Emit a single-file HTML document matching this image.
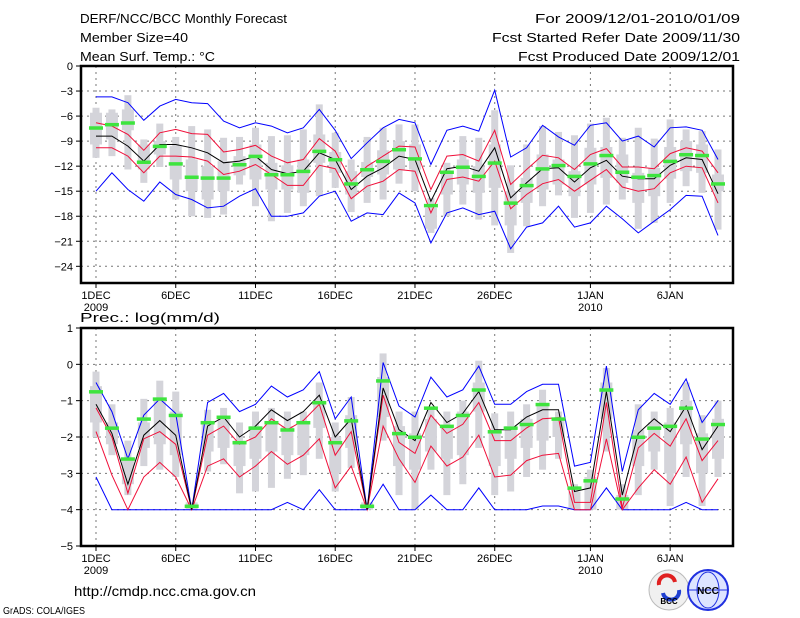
<!DOCTYPE html>
<html><head><meta charset="utf-8"><style>
html,body{margin:0;padding:0;background:#fff;width:800px;height:618px;overflow:hidden}
svg{display:block}
text{font-family:"Liberation Sans",sans-serif;fill:#000}
</style></head><body>
<svg id="c" width="800" height="618" viewBox="0 0 800 618">
<text x="80" y="23" font-size="13" textLength="207" lengthAdjust="spacingAndGlyphs">DERF/NCC/BCC Monthly Forecast</text>
<text x="80" y="42" font-size="13" textLength="108" lengthAdjust="spacingAndGlyphs">Member Size=40</text>
<text x="80" y="61" font-size="13" textLength="135" lengthAdjust="spacingAndGlyphs">Mean Surf. Temp.: °C</text>
<text x="740" y="23" font-size="13" text-anchor="end" textLength="205" lengthAdjust="spacingAndGlyphs">For 2009/12/01-2010/01/09</text>
<text x="740" y="42" font-size="13" text-anchor="end" textLength="248" lengthAdjust="spacingAndGlyphs">Fcst Started Refer Date 2009/11/30</text>
<text x="740" y="61" font-size="13" text-anchor="end" textLength="222" lengthAdjust="spacingAndGlyphs">Fcst Produced Date 2009/12/01</text>
<text x="80" y="322" font-size="13" textLength="140" lengthAdjust="spacingAndGlyphs">Prec.: log(mm/d)</text>
<text x="74" y="596" font-size="14" textLength="182" lengthAdjust="spacingAndGlyphs">http://cmdp.ncc.cma.gov.cn</text>
<text x="3" y="614" font-size="10" textLength="82" lengthAdjust="spacingAndGlyphs">GrADS: COLA/IGES</text>
<g>
<circle cx="669" cy="590" r="20" fill="#f0f0f0" stroke="#bbb"/>
<path d="M659 585 a8 8 0 0 1 16 -3" stroke="#e02020" stroke-width="4" fill="none"/>
<path d="M679 590 a8 8 0 0 1 -16 3" stroke="#2040d0" stroke-width="4" fill="none"/>
<text x="669" y="604" font-size="8" text-anchor="middle" font-weight="bold">BCC</text>
</g>
<g>
<circle cx="708" cy="590" r="20" fill="#dde4ff" stroke="#2030e0" stroke-width="2"/>
<ellipse cx="708" cy="590" rx="11" ry="18" fill="none" stroke="#2030e0"/>
<line x1="689" y1="590" x2="727" y2="590" stroke="#2030e0"/>
<text x="708" y="594" font-size="10" text-anchor="middle" font-weight="bold" fill="#1020c0">NCC</text>
</g>
</svg>
<script>
// ---- temperature panel data ----
const days = ["1DEC","6DEC","11DEC","16DEC","21DEC","26DEC","1JAN","6JAN"];
const dayIdx = [0,5,10,15,20,25,31,36];
const tYTicks = [0,-3,-6,-9,-12,-15,-18,-21,-24];
const tMean = [-8.4,-8.4,-9.6,-11.4,-9.4,-9.4,-9.8,-10.4,-11.6,-11.4,-10.8,-12.4,-12.9,-12.6,-10.4,-11.2,-14.8,-13.2,-12.2,-10.8,-11.2,-16.2,-12.3,-12,-12.6,-9.8,-15.8,-14,-12.3,-12.2,-13.9,-12.2,-11.3,-13.2,-13.5,-13.5,-11.9,-11,-11.2,-15.3];
const tRedHi = [-6.8,-7.2,-8.2,-10.1,-8,-7.6,-8.1,-8.2,-10.3,-10,-9.5,-10.8,-11.6,-11.2,-8.7,-10.2,-13.8,-12,-10.8,-9.6,-9.7,-14.8,-10.8,-10.6,-11.4,-7.7,-14.2,-12.4,-10.7,-11,-12.4,-10.6,-9.9,-12.1,-12.1,-12.3,-10.5,-9.8,-10.2,-12.8];
const tRedLo = [-9.8,-9.8,-10.8,-12.8,-10.8,-10.8,-10.9,-11.4,-13,-12.6,-11.8,-13,-14.3,-14.3,-11.9,-12.3,-15.9,-14.4,-13.8,-12.4,-12.6,-17.6,-13.6,-13.3,-13.8,-11.4,-17.1,-15.4,-14.1,-13.6,-15,-13.7,-12.4,-14.5,-15,-14.7,-12.8,-12,-12.2,-16.4];
const tMax = [-3.7,-3.7,-4.4,-6.5,-4.8,-4,-4.4,-4.5,-6.6,-7.4,-6.8,-7.2,-8,-7.4,-5.2,-7.7,-11.1,-9.2,-7.4,-6.4,-6.8,-11.8,-7.7,-7.2,-7.8,-2.9,-10.9,-9.8,-7.1,-8.5,-9.5,-7.1,-6.8,-9,-8.4,-9.7,-7.4,-7.3,-7.7,-11.2];
const tMin = [-15,-12.8,-14.8,-16.2,-13.9,-15.4,-16,-17,-16.8,-15.6,-14.7,-18,-18,-17.6,-15.6,-15,-18.6,-17.6,-17.8,-15.2,-16.4,-21.2,-17.6,-17,-17.8,-17.4,-21.9,-19.3,-18.8,-16.8,-19.3,-18.8,-16.8,-18.3,-20,-18.6,-17.2,-15.5,-15.6,-20.3];
const tObs = [-7.4,-7,-6.8,-11.5,-9.6,-11.7,-13.3,-13.4,-13.4,-11.8,-10.8,-13,-13,-12.6,-10.2,-11.2,-14.1,-12.4,-11.4,-10,-11.1,-16.7,-12.7,-12.1,-13.2,-11.6,-16.4,-14.3,-12.3,-11.9,-13.2,-11.7,-10.7,-12.7,-13.3,-13.1,-11.4,-10.6,-10.7,-14.1];
const tBoxOutHi = [-5,-5.2,-3.5,-8.8,-6.9,-8.5,-7.2,-7.6,-8.6,-8.5,-7.4,-8.4,-8.3,-7.6,-4.6,-8,-11.2,-8.5,-7.4,-7,-7,-15.8,-11.6,-8.4,-8.6,-5.3,-11.9,-9.4,-7.2,-7.9,-8.3,-6.9,-6.2,-8.6,-7.4,-8.7,-6.4,-7.6,-7.8,-10];
const tBoxOutLo = [-11,-10.8,-12.4,-14,-12.1,-16,-18,-18.2,-17.8,-14.2,-16.8,-18.6,-17.6,-16.8,-15.6,-14.6,-17.5,-16.4,-16,-14.1,-15,-20,-18,-16.6,-18.4,-19.1,-22.4,-19.2,-16.8,-15.5,-18.2,-17.6,-16.6,-16,-19.5,-18.8,-16.4,-14.4,-15.2,-19.6];
const tBoxInHi = [-5.6,-5.6,-5.2,-9.4,-9,-9.6,-11.2,-12,-11.4,-10.8,-9.4,-11.6,-11.9,-11.2,-8.2,-10.3,-12.6,-11.5,-10.1,-9,-9.4,-17,-12.6,-11.2,-12,-9.4,-15,-13.4,-10.6,-11.2,-12.6,-9.8,-9.7,-10.6,-12.8,-12.2,-9.7,-9,-9.4,-13];
const tBoxInLo = [-9.4,-8.8,-7.7,-12.4,-10.6,-13.6,-15,-16,-15,-13.1,-13.6,-14.8,-14.8,-15.2,-11.6,-12.8,-15.4,-13.3,-13,-12.4,-12.4,-19.5,-15.4,-14.2,-15.2,-14.6,-19.1,-16.4,-14.8,-14.2,-15.6,-14.2,-13.4,-14,-16.4,-15.6,-13.5,-12.6,-12.8,-15];
// ---- precipitation panel data ----
const pYTicks = [1,0,-1,-2,-3,-4,-5];
const pMean = [-1.1,-1.9,-3.3,-1.95,-1.55,-1.95,-4,-1.7,-1.45,-2,-1.7,-1.25,-1.55,-1.3,-0.85,-2,-1.5,-4,-0.65,-1.8,-2.1,-1.05,-1.6,-1.35,-0.75,-1.8,-1.8,-1.45,-1.25,-1.25,-3.5,-3.4,-0.75,-3.6,-1.9,-1.5,-1.85,-1.15,-2.35,-1.7];
const pRedHi = [-1.2,-2,-3.55,-2.05,-1.85,-2.2,-4,-1.95,-1.7,-2.2,-2,-1.5,-1.8,-1.55,-1.1,-2.5,-1.85,-4,-0.85,-2.15,-2.45,-1.4,-1.9,-1.65,-1.05,-2.1,-2.1,-1.75,-1.5,-1.47,-3.8,-3.8,-1.05,-3.95,-2.3,-1.9,-2.25,-1.5,-2.65,-2.1];
const pRedLo = [-1.85,-3.05,-4,-3.1,-2.7,-3.1,-4,-2.8,-2.6,-3.1,-2.8,-2.4,-2.75,-2.5,-2.05,-3.4,-2.8,-4,-1.7,-2.6,-3.25,-2.25,-2.8,-2.55,-1.95,-3.1,-3.05,-2.65,-2.5,-2.45,-4,-4,-2.05,-4,-3.4,-2.9,-3.3,-2.55,-3.8,-3.15];
const pMax = [-0.5,-1.3,-2.6,-1.4,-0.95,-1.35,-4,-1.05,-0.8,-1.3,-1.1,-0.6,-0.9,-0.7,-0.2,-1.5,-0.9,-4,0.05,-1.15,-1.45,-0.35,-0.9,-0.7,-0.05,-1.1,-1.1,-0.75,-0.55,-0.55,-2.8,-2.7,-0.05,-2.95,-1.25,-0.8,-1.1,-0.4,-1.6,-1];
const pMin = [-3.1,-4,-4,-4,-4,-4,-4,-4,-4,-4,-4,-4,-3.8,-4,-3.45,-4,-4,-4,-3.3,-4,-4,-3.6,-4,-4,-3.4,-4,-4,-4,-3.9,-3.9,-4,-4,-3.4,-4,-4,-4,-4,-3.8,-4,-4];
const pObs = [-0.75,-1.75,-2.6,-1.5,-0.95,-1.4,-3.9,-1.6,-1.45,-2.15,-1.75,-1.6,-1.8,-1.6,-1.05,-2.15,-1.55,-3.9,-0.45,-1.9,-2,-1.2,-1.7,-1.4,-0.7,-1.85,-1.75,-1.65,-1.1,-1.5,-3.4,-3.2,-0.7,-3.7,-2,-1.75,-1.7,-1.2,-2.05,-1.65];
const pBoxOutHi = [-0.2,-1.1,-2.1,-0.95,-0.45,-0.75,-3.8,-1.25,-1.2,-1.6,-1.3,-1.2,-1.3,-1.3,-0.5,-1.6,-0.9,-3.8,0.3,-1.3,-1.3,-1.2,-1.3,-1,0.1,-1.35,-1.3,-1.1,-0.7,-1.3,-3.3,-2.9,-0.1,-3.3,-1.1,-1.3,-1.2,-0.5,-1.4,-1];
const pBoxOutLo = [-2,-2.5,-3.6,-2.8,-2.9,-3.1,-4,-2.95,-2.75,-3.55,-3.5,-3.4,-3.15,-3.05,-2.6,-3.5,-2.85,-4,-2.1,-3.6,-4,-2.9,-3.6,-3.3,-2.3,-3.6,-3.5,-3.1,-2.9,-2.6,-4,-4,-2.4,-4,-3.6,-2.9,-3.9,-3.1,-3.9,-3.1];
const pBoxInHi = [-0.6,-1.6,-2.6,-1.6,-1,-1.3,-3.8,-1.6,-1.5,-2.1,-1.7,-1.6,-1.7,-1.6,-1,-2,-1.4,-3.8,-0.35,-1.7,-1.9,-1.5,-1.7,-1.3,-0.5,-1.8,-1.7,-1.5,-1.1,-1.5,-3.5,-3.1,-0.5,-3.6,-1.8,-1.6,-1.6,-1,-1.9,-1.5];
const pBoxInLo = [-1.6,-2.2,-3.3,-2.3,-2.2,-2.5,-4,-2.4,-2.3,-2.8,-2.6,-2.4,-2.5,-2.5,-1.75,-3,-2.3,-4,-1.45,-2.8,-2.9,-2.4,-2.6,-2.5,-1.3,-2.8,-2.6,-2.3,-2.1,-2,-4,-4,-1.5,-4,-2.8,-2.4,-3,-2.2,-3,-2.6];

const NS="http://www.w3.org/2000/svg";
const svg=document.getElementById('c');
const X0=81,X1=733,D0=-0.94,D1=39.94;
function xs(d){return X0+(d-D0)/(D1-D0)*(X1-X0);}
function mk(tag,at,parent){const e=document.createElementNS(NS,tag);for(const k in at)e.setAttribute(k,at[k]);(parent||svg).appendChild(e);return e;}

function panel(cfg){
  const ys=v=>cfg.top+(cfg.vmax-v)/(cfg.vmax-cfg.vmin)*(cfg.bot-cfg.top);
  const g=mk('g',{});
  
  
  // gridlines
  cfg.yt.forEach(v=>{const y=ys(v);
    if(y>cfg.top+1&&y<cfg.bot-1){const l=mk('line',{x1:X0,x2:X1,y1:y,y2:y,stroke:'#777','stroke-dasharray':'2,4','stroke-width':1},g);
      
      }
    const tk=mk('line',{x1:X0-5,x2:X0,y1:y,y2:y,stroke:'#000'},g);
    
    
    const t=mk('text',{x:X0-8,y:y+4,'font-size':11,'text-anchor':'end'},g);
    t.textContent=(v<0?'\u2212'+(-v):String(v));
    
    
  });
  dayIdx.forEach((d,i)=>{const x=xs(d);
    const l=mk('line',{x1:x,x2:x,y1:cfg.top,y2:cfg.bot,stroke:'#777','stroke-dasharray':'2,4'},g);
    
    
    const tk=mk('line',{x1:x,x2:x,y1:cfg.bot,y2:cfg.bot+5,stroke:'#000'},g);
    
    
    const t=mk('text',{x:x,y:cfg.bot+16,'font-size':11,'text-anchor':'middle'},g);
    t.textContent=days[i];
    
    
    if(i==0||i==6){const t2=mk('text',{x:x,y:cfg.bot+28,'font-size':11,'text-anchor':'middle'},g);
      t2.textContent=(i==0?'2009':'2010');
      
      }
  });
  // boxes
  for(let i=0;i<cfg.oh.length;i++){const x=xs(i);
    const b1=mk('rect',{x:x-3.5,y:ys(cfg.oh[i]),width:7,height:Math.max(1,ys(cfg.ol[i])-ys(cfg.oh[i])),fill:'#d4d4da'},g);
    
    
    const b2=mk('rect',{x:x-6,y:ys(cfg.ih[i]),width:12,height:Math.max(1,ys(cfg.il[i])-ys(cfg.ih[i])),fill:'#d4d4da'},g);
    
    
  }
  const line=(arr,col,nm)=>{const p=mk('polyline',{points:arr.map((v,i)=>xs(i).toFixed(1)+','+ys(v).toFixed(1)).join(' '),fill:'none',stroke:col,'stroke-width':1},g);
    
    };
  line(cfg.mx,'#0000ff','max-line');line(cfg.mn,'#0000ff','min-line');
  line(cfg.rh,'#f0103a','upper-std-line');line(cfg.rl,'#f0103a','lower-std-line');
  line(cfg.mean,'#000','ensemble-mean-line');
  cfg.obs.forEach((v,i)=>{const r=mk('rect',{x:xs(i)-7,y:ys(v)-1.5,width:14,height:3.5,fill:'#3ee43e'},g);
    
    });
  const f=mk('rect',{x:X0,y:cfg.top,width:X1-X0,height:cfg.bot-cfg.top,fill:'none',stroke:'#000','stroke-width':2.5},g);
  
  
}
panel({name:'temperature-panel',top:66,bot:283,vmax:0,vmin:-26,yt:tYTicks,mean:tMean,rh:tRedHi,rl:tRedLo,mx:tMax,mn:tMin,obs:tObs,oh:tBoxOutHi,ol:tBoxOutLo,ih:tBoxInHi,il:tBoxInLo});
panel({name:'precipitation-panel',top:328,bot:546,vmax:1,vmin:-5,yt:pYTicks,mean:pMean,rh:pRedHi,rl:pRedLo,mx:pMax,mn:pMin,obs:pObs,oh:pBoxOutHi,ol:pBoxOutLo,ih:pBoxInHi,il:pBoxInLo});
</script>
</body></html>
